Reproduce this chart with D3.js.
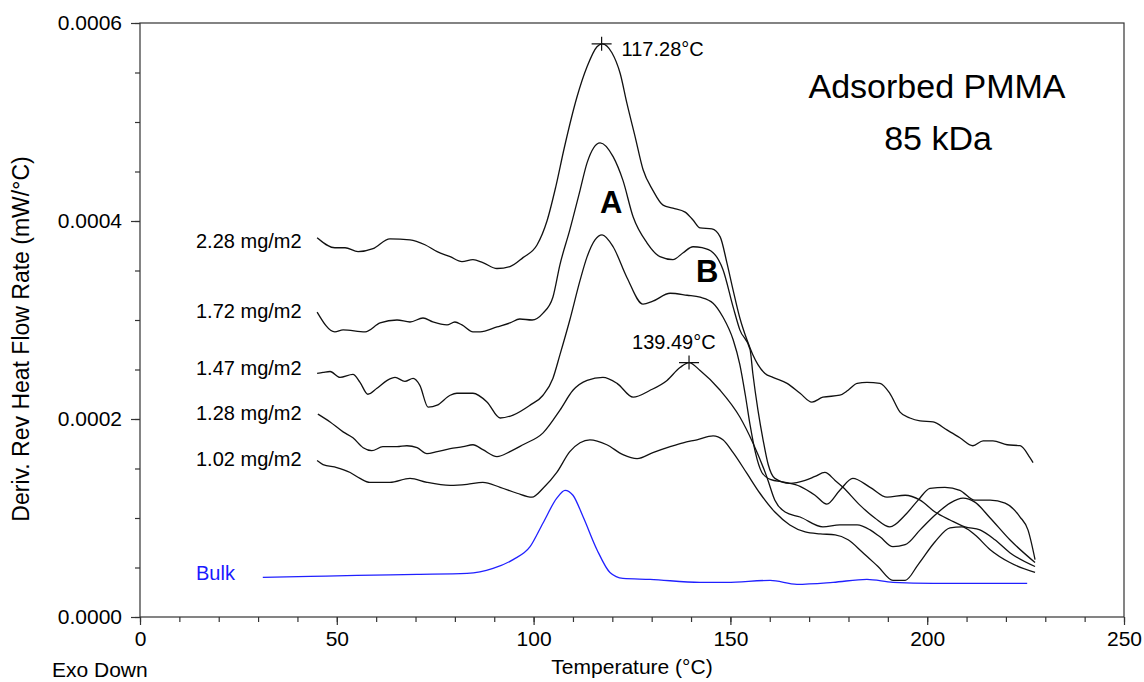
<!DOCTYPE html>
<html>
<head>
<meta charset="utf-8">
<script src="https://cdn.jsdelivr.net/npm/d3@7/dist/d3.min.js"></script>
<style>
body { margin: 0; background: #fff; }
text { font-family: Arial, "Liberation Sans", sans-serif; fill: #000; }
</style>
</head>
<body>
<div id="content"></div>
<script>
const w = 1144
const h = 682

// deriv. rev heat flow, values in units of 1e-4 mW/°C, [temperature °C, value]
const s228 = [[45.0,3.83],[49.5,3.73],[52.1,3.73],[55.4,3.69],[59.2,3.72],[63.5,3.82],[68.6,3.81],[72.4,3.76],[75.5,3.69],[78.8,3.64],[81.8,3.59],[84.6,3.61],[87.1,3.58],[90.7,3.52],[94.0,3.54],[97.3,3.63],[100.9,3.76],[103.4,4.00],[105.6,4.34],[107.8,4.74],[111.0,5.25],[113.6,5.56],[116.1,5.76],[117.4,5.79],[119.9,5.70],[122.0,5.49],[123.7,5.19],[125.8,4.85],[127.8,4.52],[130.3,4.31],[132.9,4.16],[135.4,4.13],[138.5,4.09],[140.5,4.01],[142.3,3.93],[145.3,3.92],[147.4,3.84],[149.1,3.58],[150.7,3.30],[152.4,3.02],[154.2,2.80],[155.7,2.65],[157.0,2.55],[158.8,2.46],[160.8,2.42],[164.4,2.36],[167.7,2.26],[170.7,2.17],[173.5,2.22],[177.8,2.24],[179.9,2.29],[182.2,2.36],[184.7,2.37],[188.0,2.36],[190.5,2.26],[193.1,2.07],[195.6,2.01],[198.2,1.98],[201.5,1.97],[205.0,1.89],[208.3,1.81],[211.6,1.73],[214.2,1.78],[216.7,1.78],[220.3,1.74],[223.6,1.73],[226.1,1.61],[226.9,1.56]]

const s172 = [[45.0,3.08],[49.5,2.88],[51.6,2.90],[57.2,2.88],[61.0,2.97],[65.3,3.00],[68.6,2.98],[71.9,3.02],[74.4,2.98],[78.0,2.95],[80.0,2.98],[81.8,2.95],[84.6,2.88],[86.4,2.88],[90.7,2.93],[94.0,2.97],[96.5,3.01],[99.6,3.00],[102.4,3.07],[104.9,3.23],[106.7,3.56],[109.2,3.91],[111.8,4.31],[113.6,4.59],[116.9,4.79],[120.2,4.65],[122.7,4.41],[125.3,4.04],[128.8,3.78],[132.1,3.64],[135.4,3.61],[138.0,3.68],[140.5,3.74],[142.8,3.73],[145.6,3.68],[148.1,3.51],[150.7,3.13],[152.4,2.90],[155.0,2.70],[155.7,2.46],[157.0,2.09],[158.3,1.79],[159.6,1.54],[161.3,1.40],[165.1,1.35],[169.0,1.38],[171.5,1.42],[174.0,1.46],[176.6,1.38],[178.6,1.31],[182.9,1.13],[186.7,1.00],[190.5,0.91],[194.4,1.03],[197.7,1.18],[200.7,1.30],[204.5,1.31],[208.3,1.28],[212.1,1.18],[216.0,1.18],[219.8,1.15],[223.6,1.01],[225.6,0.88],[227.4,0.58]]

const s147 = [[45.0,2.46],[46.5,2.47],[48.3,2.48],[50.8,2.42],[54.1,2.45],[55.9,2.37],[57.9,2.25],[60.2,2.31],[62.8,2.39],[64.8,2.42],[67.3,2.38],[69.4,2.41],[71.1,2.34],[73.2,2.12],[75.5,2.14],[78.8,2.24],[80.5,2.26],[84.6,2.26],[88.2,2.17],[91.5,2.01],[94.8,2.04],[99.1,2.14],[102.4,2.24],[104.9,2.41],[106.7,2.65],[109.2,3.00],[111.8,3.40],[113.6,3.64],[115.6,3.81],[117.4,3.86],[120.2,3.74],[123.7,3.43],[127.8,3.16],[130.3,3.19],[134.7,3.27],[139.0,3.25],[142.3,3.23],[145.6,3.17],[148.1,3.03],[150.7,2.80],[152.4,2.55],[153.8,2.24],[155.0,1.94],[156.3,1.67],[158.0,1.46],[160.1,1.39],[163.9,1.36],[167.7,1.32],[171.5,1.23],[174.5,1.14],[177.8,1.28],[181.1,1.40],[185.5,1.31],[189.8,1.21],[194.4,1.23],[198.2,1.18],[202.0,1.06],[205.8,0.98],[209.6,0.91],[213.4,0.88],[217.2,0.78],[221.0,0.65],[227.4,0.51]]

const s128 = [[45.2,2.05],[48.3,1.97],[51.6,1.87],[54.1,1.81],[56.7,1.71],[58.9,1.68],[61.7,1.72],[65.3,1.72],[67.8,1.73],[70.4,1.71],[72.9,1.65],[75.5,1.67],[78.8,1.70],[82.1,1.72],[84.6,1.74],[87.1,1.69],[90.7,1.62],[94.0,1.67],[97.3,1.74],[102.4,1.86],[106.7,2.09],[110.0,2.29],[113.6,2.39],[117.6,2.42],[121.2,2.36],[125.3,2.22],[129.6,2.29],[133.9,2.39],[137.2,2.52],[139.49,2.57],[142.3,2.49],[147.4,2.29],[152.4,2.02],[155.7,1.76],[159.3,1.41],[161.3,1.18],[163.9,1.06],[167.7,1.01],[173.5,0.91],[177.8,0.93],[182.2,0.93],[185.5,0.88],[188.0,0.81],[191.3,0.71],[194.4,0.73],[198.2,0.88],[202.0,1.03],[205.8,1.15],[209.1,1.20],[212.1,1.16],[216.0,1.00],[221.0,0.78],[227.4,0.55]]

const s102 = [[45.0,1.58],[46.5,1.54],[50.0,1.51],[53.4,1.46],[55.9,1.40],[58.4,1.36],[63.5,1.36],[68.6,1.40],[72.9,1.36],[78.8,1.33],[83.1,1.34],[87.1,1.36],[91.5,1.31],[95.8,1.25],[99.6,1.21],[102.4,1.30],[105.9,1.46],[109.2,1.67],[111.8,1.76],[114.3,1.79],[118.6,1.74],[122.7,1.64],[126.3,1.60],[130.3,1.66],[134.7,1.72],[138.0,1.76],[141.5,1.79],[145.6,1.83],[148.1,1.79],[150.7,1.66],[154.2,1.45],[157.5,1.25],[161.3,1.06],[165.1,0.93],[169.0,0.86],[172.8,0.84],[176.6,0.83],[179.9,0.78],[183.4,0.66],[187.5,0.51],[191.3,0.37],[194.4,0.37],[197.7,0.53],[202.0,0.76],[205.8,0.90],[208.8,0.91],[212.1,0.83],[216.0,0.68],[221.0,0.55],[227.4,0.45]]

const sBulk = [[31.2,0.40],[43.2,0.41],[55.1,0.42],[70.4,0.43],[83.1,0.44],[89.7,0.49],[94.8,0.58],[99.1,0.71],[102.4,0.95],[105.9,1.20],[108.0,1.28],[110.0,1.23],[112.6,1.01],[116.1,0.68],[119.4,0.45],[122.7,0.39],[129.6,0.38],[142.3,0.35],[149.1,0.35],[160.1,0.37],[166.9,0.33],[176.1,0.35],[184.7,0.38],[191.3,0.35],[201.5,0.34],[225.4,0.34]]

const series = [s228, s172, s147, s128, s102, sBulk]
const seriesNames = ["2.28 mg/m2", "1.72 mg/m2", "1.47 mg/m2", "1.28 mg/m2", "1.02 mg/m2", "Bulk"]
const seriesColors = ["#111", "#111", "#111", "#111", "#111", "#2020ff"]
const labelDy = [10, 6, 2, 6, 5, 3]

const peakTemps = [117.28, 139.49]
const peakValues = [5.79, 2.57]

const xTicks = [0, 50, 100, 150, 200, 250]
const yTicks = [0, 0.0002, 0.0004, 0.0006]

let svg = d3.select("#content")
            .append("svg")
            .attr("width", w)
            .attr("height", h)

x = d3.scaleLinear()
 .domain([0, 250])
 .range([140, 1124])

y = d3.scaleLinear()
 .domain([0, 0.0006])
 .range([617, 23])

const line = d3.line()
  .x(d => x(d[0]))
  .y(d => y(d[1] * 1e-4))
  .curve(d3.curveMonotoneX)

// frame
svg.append("rect")
  .attr("x", x(0)).attr("y", y(0.0006))
  .attr("width", x(250) - x(0)).attr("height", y(0) - y(0.0006))
  .attr("fill", "none").attr("stroke", "#333").attr("stroke-width", 1.2)

// axes, major + minor ticks
function styleAxis(g) {
  g.select(".domain").remove()
  g.selectAll("line").attr("stroke", "#333").attr("stroke-width", 1.2)
  g.selectAll("text").attr("fill", "#000").style("font-size", "21px")
    .style("font-family", "Arial, 'Liberation Sans', sans-serif")
}

svg.append("g").attr("transform", "translate(0,617)")
  .call(d3.axisBottom(x).tickValues(d3.range(0, 251, 10)).tickSize(5).tickFormat(""))
  .call(styleAxis)
svg.append("g").attr("transform", "translate(0,617)")
  .call(d3.axisBottom(x).tickValues(xTicks).tickSize(8).tickPadding(6).tickFormat(d3.format("d")))
  .call(styleAxis)

svg.append("g").attr("transform", "translate(140,0)")
  .call(d3.axisLeft(y).tickValues(d3.range(0, 0.00061, 0.00005)).tickSize(5).tickFormat(""))
  .call(styleAxis)
svg.append("g").attr("transform", "translate(140,0)")
  .call(d3.axisLeft(y).tickValues(yTicks).tickSize(9).tickPadding(9).tickFormat(d3.format(".4f")))
  .call(styleAxis)

svg.append("text")
  .attr("transform", "translate(29,339) rotate(-90)")
  .attr("text-anchor", "middle")
  .style("font-size", "23px")
  .text("Deriv. Rev Heat Flow Rate (mW/°C)")

svg.append("text")
  .attr("x", 632).attr("y", 674)
  .attr("text-anchor", "middle")
  .style("font-size", "21px")
  .text("Temperature (°C)")

svg.append("text")
  .attr("x", 52).attr("y", 677)
  .style("font-size", "21px")
  .text("Exo Down")

// curves
svg.selectAll(".curve")
  .data(series)
  .enter()
  .append("path")
    .attr("class", "curve")
    .attr("d", line)
    .attr("fill", "none")
    .attr("stroke", (d, i) => seriesColors[i])
    .attr("stroke-width", 1.3)

svg.selectAll(".slabel")
  .data(series)
  .enter()
  .append("text")
    .attr("class", "slabel")
    .attr("x", 196)
    .attr("y", (d, i) => y(d[0][1] * 1e-4) + labelDy[i])
    .style("font-size", "20px")
    .style("fill", (d, i) => seriesColors[i] == "#111" ? "#000" : "#1a1aff")
    .text((d, i) => seriesNames[i])

// peak markers
peakTemps.forEach((t, i) => {
  const px = x(t), py = y(peakValues[i] * 1e-4)
  svg.append("path")
    .attr("d", `M${px - 10},${py}H${px + 10}M${px},${py - 7}V${py + 7}`)
    .attr("stroke", "#111").attr("stroke-width", 1.2)
  svg.append("text")
    .attr("x", i == 0 ? px + 20 : px - 57)
    .attr("y", i == 0 ? py + 12 : py - 14)
    .style("font-size", "20px")
    .text(t.toFixed(2) + "°C")
})

svg.append("text").attr("x", 600).attr("y", 213)
  .style("font-size", "31px").style("font-weight", "bold").text("A")
svg.append("text").attr("x", 696).attr("y", 282)
  .style("font-size", "31px").style("font-weight", "bold").text("B")

svg.append("text").attr("x", 937).attr("y", 98)
  .attr("text-anchor", "middle").style("font-size", "34px").text("Adsorbed PMMA")
svg.append("text").attr("x", 938).attr("y", 150)
  .attr("text-anchor", "middle").style("font-size", "34px").text("85 kDa")
</script>
</body>
</html>
